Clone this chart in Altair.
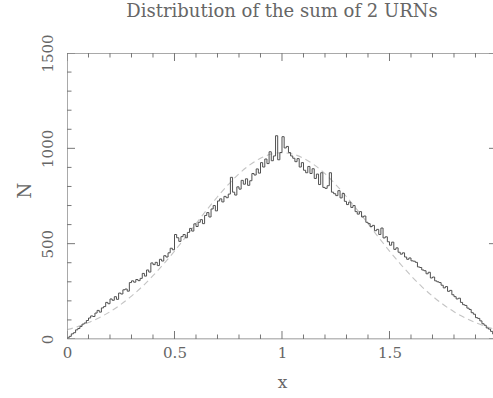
import altair as alt
import pandas as pd

# ---- data ----
bin_width = 0.01
counts = [
    6, 14, 27, 33, 48, 55, 66, 78, 84, 97,
    110, 121, 118, 136, 150, 141, 163, 170, 192, 185,
    210, 203, 222, 208, 241, 236, 258, 262, 251, 296,
    305, 298, 312, 306, 318, 344, 330, 362, 351, 399,
    390, 402, 385, 418, 409, 437, 430, 452, 476, 468,
    548, 531, 512, 537, 548, 531, 559, 580, 566, 604,
    590, 612, 626, 605, 648, 663, 640, 682, 700, 672,
    724, 735, 719, 748, 741, 760, 848, 770, 755, 798,
    786, 832, 812, 840, 806, 830, 868, 860, 892, 870,
    925, 902, 944, 920, 982, 935, 960, 1066, 940, 978,
    1061, 1002, 1010, 978, 960, 948, 930, 946, 902, 925,
    885, 872, 905, 868, 893, 842, 865, 810, 872, 795,
    790, 804, 872, 770, 762, 752, 778, 740, 763, 722,
    705, 718, 690, 700, 668, 655, 668, 640, 645, 612,
    605, 590, 596, 568, 575, 548, 582, 530, 536, 510,
    492, 508, 470, 478, 455, 445, 452, 430, 418, 425,
    410, 408, 402, 378, 375, 362, 358, 342, 350, 320,
    325, 305, 300, 296, 282, 268, 275, 250, 255, 232,
    222, 210, 214, 192, 180, 176, 162, 155, 138, 130,
    112, 108, 95, 80, 72, 58, 52, 40, 26, 12,
]
gauss_x = [round(i * 0.05, 2) for i in range(41)]
gauss_y = [49, 65, 86, 112, 143, 181, 225, 275, 332, 394, 461, 532, 605, 677,
           746, 810, 867, 913, 948, 970, 977, 970, 948, 913, 867, 810, 746,
           677, 605, 532, 461, 394, 332, 275, 225, 181, 143, 112, 86, 65, 49]

x_major = [0, 0.5, 1, 1.5, 2]
x_minor = [0.1, 0.2, 0.3, 0.4, 0.6, 0.7, 0.8, 0.9, 1.1, 1.2, 1.3, 1.4,
           1.6, 1.7, 1.8, 1.9]
y_major = [0, 500, 1000, 1500]
y_minor = [100, 200, 300, 400, 600, 700, 800, 900, 1100, 1200, 1300, 1400]
x_labels = [0, 0.5, 1, 1.5, 2]
y_labels = [0, 500, 1000, 1500]

title_text = "Distribution of the sum of 2 URNs"

# ---- layout ----
W, H = 426, 286
XMAX = 1.9814
FONT = "DejaVu Serif"
TXT = "#666666"
FRAME = "#777777"

xs = alt.Scale(domain=[0, XMAX], nice=False, zero=False)
ys = alt.Scale(domain=[0, 1500], nice=False, zero=False)

edges = [i * bin_width for i in range(len(counts))] + [len(counts) * bin_width]
hist_df = pd.DataFrame({"x": edges, "n": counts + [counts[-1]]})
gauss_df = pd.DataFrame({"x": gauss_x, "n": gauss_y})

hist = alt.Chart(hist_df).mark_line(
    interpolate="step-after", color="#505050", strokeWidth=1, clip=True
).encode(
    x=alt.X("x:Q", scale=xs, title="x",
            axis=alt.Axis(values=x_labels, format="~g", ticks=False, domain=False,
                          grid=False, labelFlush=False, labelPadding=6,
                          labelFontSize=15, labelFont=FONT, labelColor=TXT,
                          titleFont=FONT, titleFontSize=17, titleColor=TXT,
                          titleFontWeight="normal", titleY=43, titleX=215,
                          titleBaseline="middle")),
    y=alt.Y("n:Q", scale=ys, title="N",
            axis=alt.Axis(values=y_labels, format="d", ticks=False, domain=False,
                          grid=False, labelAngle=270, labelAlign="center",
                          labelBaseline="middle", labelPadding=20,
                          labelFontSize=15, labelFont=FONT, labelColor=TXT,
                          labelFlush=False,
                          titleFont=FONT, titleFontSize=18, titleColor=TXT,
                          titleFontWeight="normal", titleAngle=270,
                          titleX=-42, titleY=137, titleAlign="center",
                          titleBaseline="middle")),
)

gauss = alt.Chart(gauss_df).mark_line(
    interpolate="monotone", color="#c4c4c4", strokeWidth=1.1,
    strokeDash=[6, 4], clip=True
).encode(x=alt.X("x:Q", scale=xs), y=alt.Y("n:Q", scale=ys))

frame_df = pd.DataFrame({
    "x": [0, 0, 0], "x2": [0, 2, 2],
    "y": [0, 0, 1500], "y2": [1500, 0, 1500],
})
frame = alt.Chart(frame_df).mark_rule(color=FRAME, strokeWidth=1, clip=True).encode(
    x=alt.X("x:Q", scale=xs), x2="x2:Q",
    y=alt.Y("y:Q", scale=ys), y2="y2:Q",
)


def xticks(vals, pos, length):
    df = pd.DataFrame({"t": vals, "p": [pos] * len(vals)})
    off = -length if pos == 0 else length
    return alt.Chart(df).mark_rule(color=FRAME, strokeWidth=1, y2Offset=off,
                                   clip=True).encode(
        x=alt.X("t:Q", scale=xs), y=alt.Y("p:Q", scale=ys), y2="p:Q")


def yticks(vals, pos, length):
    df = pd.DataFrame({"t": vals, "p": [pos] * len(vals)})
    off = length if pos == 0 else -length
    return alt.Chart(df).mark_rule(color=FRAME, strokeWidth=1, x2Offset=off,
                                   clip=True).encode(
        y=alt.Y("t:Q", scale=ys), x=alt.X("p:Q", scale=xs), x2="p:Q")


layers = [
    gauss, hist, frame,
    xticks(x_major, 0, 8), xticks(x_minor, 0, 4.5),
    xticks(x_major, 1500, 8), xticks(x_minor, 1500, 4.5),
    yticks(y_major, 0, 8), yticks(y_minor, 0, 4.5),
    yticks(y_major, 2, 8),
]

chart = alt.layer(*layers).properties(
    width=W, height=H,
    title=alt.TitleParams(title_text, font=FONT, fontSize=18, color=TXT,
                          fontWeight="normal", anchor="middle", frame="group",
                          baseline="alphabetic", offset=15, dx=2, dy=16),
    autosize=alt.AutoSizeParams(type="none"),
    padding={"left": 67, "top": 53, "right": 0, "bottom": 59},
).configure_view(stroke=None).configure(background="white")

chart.save("out.html", embed_options={"renderer": "svg", "actions": False})
